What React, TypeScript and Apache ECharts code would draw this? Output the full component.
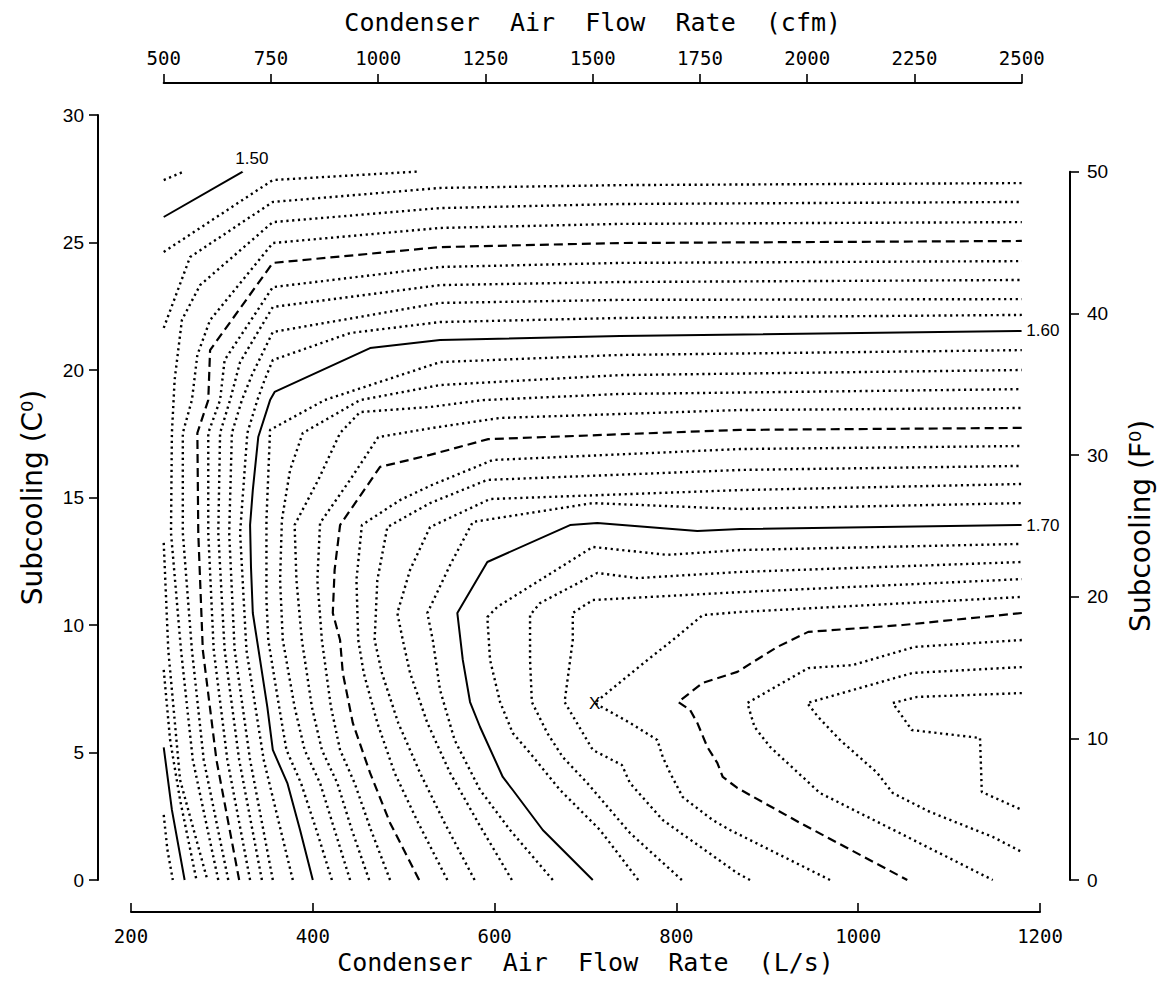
import React, { useEffect, useRef } from "react";
import * as echarts from "echarts";

type Pt = [number, number];

// Scales
const flowRange: Pt = [200, 1200]; // L/s, bottom axis
const flowInterval = 200;
const subcoolRange: Pt = [0, 30]; // °C, left axis
const subcoolInterval = 5;
const cfmRange: Pt = [500, 2500]; // cfm, top axis
const cfmInterval = 250;
const fahrenheitRange: Pt = [0, 50]; // F°, right axis
const fahrenheitInterval = 10;
const LS_PER_CFM = 0.47195;
const F_PER_C = 1.8;

// Contour pieces, points are [air flow L/s, subcooling °C]
const c149: Pt[][] = [
  [[236, 27.45], [258, 27.78]],
  [[236, 2.55], [240, 1.2], [246, 0]],
];
const c150: Pt[][] = [
  [[236, 26.0], [323, 27.78]],
  [[236, 5.2], [245, 2.75], [259, 0]],
];
const c151: Pt[][] = [
  [[236, 24.63], [356, 27.45], [515, 27.78]],
  [[236, 8.24], [243, 5.5], [254, 3.14], [272, 0]],
];
const c152: Pt[][] = [
  [[236, 21.65], [265, 24.43], [356, 26.59], [540, 27.14], [738, 27.25], [1180, 27.33]],
  [[236, 13.22], [241, 9.02], [254, 3.92], [284, 0]],
];
const c153: Pt[][] = [
  [[296, 0], [268, 4.71], [255, 9.02], [244, 13.61], [245, 17.53], [248, 19.61], [256, 21.96], [276, 23.33], [356, 25.8], [540, 26.35], [738, 26.51], [1180, 26.59]],
];
const c154: Pt[][] = [
  [[307, 0], [280, 4.71], [267, 9.02], [257, 13.61], [257, 17.53], [267, 18.82], [273, 20.59], [287, 21.96], [356, 24.98], [540, 25.57], [738, 25.73], [1180, 25.8]],
];
const c155: Pt[][] = [
  [[319, 0], [294, 4.71], [279, 9.02], [274, 13.61], [273, 17.53], [285, 18.82], [287, 20.78], [356, 24.2], [540, 24.82], [738, 24.98], [1180, 25.06]],
];
const c156: Pt[][] = [
  [[331, 0], [306, 4.71], [291, 9.02], [285, 13.61], [285, 17.53], [298, 18.82], [303, 20.39], [356, 23.25], [540, 24.04], [738, 24.2], [1180, 24.27]],
];
const c157: Pt[][] = [
  [[344, 0], [319, 4.71], [303, 9.02], [296, 13.61], [298, 17.53], [309, 18.82], [320, 20.31], [356, 22.47], [540, 23.33], [738, 23.45], [1180, 23.53]],
];
const c158: Pt[][] = [
  [[356, 0], [331, 4.71], [314, 9.02], [308, 13.61], [311, 17.53], [322, 18.82], [333, 19.8], [356, 21.49], [540, 22.63], [738, 22.75], [1180, 22.78]],
];
const c159: Pt[][] = [
  [[378, 0], [346, 4.71], [327, 9.02], [320, 13.61], [328, 17.53], [339, 18.82], [347, 19.61], [356, 20.39], [441, 21.45], [540, 21.88], [738, 22.04], [1180, 22.16]],
];
const c160: Pt[][] = [
  [[400, 0], [386, 1.96], [372, 3.8], [356, 5.1], [350, 6.78], [342, 8.63], [334, 10.47], [332, 12.27], [331, 13.92], [334, 15.29], [340, 17.37], [353, 18.82], [358, 19.14], [463, 20.86], [540, 21.18], [738, 21.33], [1180, 21.53]],
];
const c161: Pt[][] = [
  [[421, 0], [404, 1.96], [387, 3.8], [371, 5.1], [363, 6.78], [351, 9.41], [349, 10.98], [349, 14.12], [353, 17.65], [413, 18.82], [540, 20.31], [738, 20.59], [1180, 20.78]],
];
const c162: Pt[][] = [
  [[441, 0], [424, 1.96], [408, 3.8], [391, 5.1], [380, 6.78], [367, 9.41], [364, 11.76], [366, 14.12], [375, 16.08], [389, 17.53], [452, 18.82], [540, 19.41], [738, 19.8], [1180, 20.0]],
];
const c163: Pt[][] = [
  [[462, 0], [443, 1.96], [427, 3.8], [410, 5.1], [399, 6.78], [388, 9.41], [382, 11.76], [380, 13.92], [406, 15.69], [430, 17.53], [452, 18.35], [529, 18.55], [587, 18.82], [738, 19.06], [1180, 19.25]],
];
const c164: Pt[][] = [
  [[485, 0], [464, 1.96], [446, 3.8], [430, 5.1], [420, 6.78], [410, 9.41], [405, 11.76], [408, 14.0], [441, 15.69], [472, 17.37], [532, 17.73], [606, 18.12], [870, 18.43], [1180, 18.51]],
];
const c165: Pt[][] = [
  [[517, 0], [485, 2.24], [463, 4.2], [444, 6.16], [433, 8.12], [430, 9.41], [422, 10.47], [424, 12.16], [430, 13.92], [474, 16.2], [529, 16.67], [593, 17.29], [870, 17.65], [1180, 17.73]],
];
const c166: Pt[][] = [
  [[548, 0], [516, 2.24], [490, 4.2], [471, 6.16], [456, 8.12], [450, 9.41], [448, 11.76], [454, 13.92], [496, 14.9], [531, 15.49], [598, 16.47], [870, 16.9], [1180, 17.02]],
];
const c167: Pt[][] = [
  [[578, 0], [545, 2.24], [518, 4.2], [494, 6.16], [476, 8.12], [468, 9.41], [471, 11.76], [482, 13.84], [529, 14.78], [592, 15.69], [870, 16.08], [1180, 16.24]],
];
const c168: Pt[][] = [
  [[619, 0], [582, 2.24], [551, 4.2], [526, 6.16], [507, 8.12], [499, 9.41], [493, 10.47], [507, 12.16], [529, 13.84], [595, 14.94], [870, 15.29], [1180, 15.53]],
];
const c169: Pt[][] = [
  [[664, 0], [617, 1.96], [584, 3.53], [556, 5.49], [540, 7.45], [532, 9.41], [526, 10.47], [551, 12.35], [576, 14.04], [708, 14.78], [870, 14.55], [1180, 14.78]],
];
const c170: Pt[][] = [
  [[708, 0], [653, 1.96], [620, 3.53], [609, 4.04], [584, 6.0], [573, 6.98], [565, 8.63], [559, 10.47], [592, 12.47], [683, 13.92], [713, 14.0], [823, 13.69], [870, 13.76], [1180, 13.92]],
];
const c171: Pt[][] = [
  [[758, 0], [716, 1.96], [672, 3.53], [639, 4.98], [620, 5.76], [606, 6.98], [595, 8.63], [592, 10.31], [603, 10.71], [708, 13.06], [790, 12.75], [870, 12.94], [1180, 13.18]],
];
const c172: Pt[][] = [
  [[806, 0], [749, 1.84], [702, 3.8], [675, 4.82], [658, 5.76], [641, 6.98], [639, 8.63], [639, 10.39], [650, 10.86], [713, 12.04], [757, 11.84], [870, 12.08], [1180, 12.47]],
];
const c173: Pt[][] = [
  [[881, 0], [867, 0.27], [785, 2.35], [749, 3.8], [740, 4.51], [708, 5.1], [677, 6.98], [686, 9.41], [686, 10.47], [708, 10.98], [870, 11.29], [1180, 11.8]],
];
const c174: Pt[][] = [
  [[969, 0], [859, 1.96], [840, 2.35], [807, 3.25], [793, 4.2], [785, 4.82], [779, 5.49], [749, 6.16], [710, 6.94], [771, 8.71], [796, 9.41], [829, 10.39], [870, 10.51], [1180, 11.1]],
];
const c175: Pt[][] = [
  [[1180, 10.47], [1049, 10.0], [945, 9.73], [911, 9.14], [867, 8.16], [829, 7.73], [802, 6.98], [815, 6.67], [823, 6.16], [834, 5.22], [845, 4.59], [851, 4.04], [867, 3.61], [936, 2.24], [1054, 0]],
];
const c176: Pt[][] = [
  [[1180, 9.41], [1062, 9.14], [994, 8.43], [945, 8.31], [878, 6.94], [886, 6.0], [903, 5.22], [958, 3.41], [1054, 1.69], [1148, 0]],
];
const c177: Pt[][] = [
  [[1180, 8.35], [1060, 8.12], [994, 7.45], [944, 6.94], [956, 6.39], [980, 5.49], [1021, 4.2], [1038, 3.41], [1079, 2.67], [1148, 1.69], [1180, 1.1]],
];
const c178: Pt[][] = [
  [[1180, 7.33], [1065, 7.18], [1038, 6.94], [1059, 5.88], [1134, 5.57], [1136, 3.45], [1180, 2.75]],
];

const contours: { level: number; pieces: Pt[][] }[] = [
  { level: 1.49, pieces: c149 },
  { level: 1.5, pieces: c150 },
  { level: 1.51, pieces: c151 },
  { level: 1.52, pieces: c152 },
  { level: 1.53, pieces: c153 },
  { level: 1.54, pieces: c154 },
  { level: 1.55, pieces: c155 },
  { level: 1.56, pieces: c156 },
  { level: 1.57, pieces: c157 },
  { level: 1.58, pieces: c158 },
  { level: 1.59, pieces: c159 },
  { level: 1.6, pieces: c160 },
  { level: 1.61, pieces: c161 },
  { level: 1.62, pieces: c162 },
  { level: 1.63, pieces: c163 },
  { level: 1.64, pieces: c164 },
  { level: 1.65, pieces: c165 },
  { level: 1.66, pieces: c166 },
  { level: 1.67, pieces: c167 },
  { level: 1.68, pieces: c168 },
  { level: 1.69, pieces: c169 },
  { level: 1.7, pieces: c170 },
  { level: 1.71, pieces: c171 },
  { level: 1.72, pieces: c172 },
  { level: 1.73, pieces: c173 },
  { level: 1.74, pieces: c174 },
  { level: 1.75, pieces: c175 },
  { level: 1.76, pieces: c176 },
  { level: 1.77, pieces: c177 },
  { level: 1.78, pieces: c178 },
];

// Labelled levels: which piece end carries the label, and where the text sits
const labelledLevels: { level: number; piece: Pt[]; position: string; offset: number[] }[] = [
  { level: 1.5, piece: c150[0], position: "top", offset: [9, 0] },
  { level: 1.6, piece: c160[0], position: "right", offset: [0, 0] },
  { level: 1.7, piece: c170[0], position: "right", offset: [0, 0] },
];

// Design point marked with an X
const designPoint: Pt = [710, 6.94];

const INK = "#000";
const HERSHEY = "'DejaVu Sans Mono', monospace";
const SANS = "'Liberation Sans', Arial, sans-serif";
const TITLE_SANS = "'DejaVu Sans', sans-serif";

function lineStyleFor(level: number) {
  const h = Math.round(level * 100);
  if (h % 10 === 0) return { type: "solid" as any, width: 2 };
  if (h % 5 === 0) return { type: [9, 5] as any, width: 2.2 };
  return { type: [2.2, 3.6] as any, width: 2.4 };
}

const plainNumber = (v: number) => String(v);

function buildOption() {
  const main = { left: 131, top: 115, width: 909, height: 765 };
  const pxPerLs = main.width / (flowRange[1] - flowRange[0]);
  const pxPerC = main.height / (subcoolRange[1] - subcoolRange[0]);
  const topGrid = {
    left: main.left + (cfmRange[0] * LS_PER_CFM - flowRange[0]) * pxPerLs,
    width: (cfmRange[1] - cfmRange[0]) * LS_PER_CFM * pxPerLs,
    top: 83,
    height: main.top + main.height - 83,
  };
  const fSpanPx = ((fahrenheitRange[1] - fahrenheitRange[0]) / F_PER_C) * pxPerC;
  const rightGrid = {
    left: main.left,
    width: 939,
    top: main.top + main.height - fSpanPx,
    height: fSpanPx,
  };

  const axisLine = { show: true, onZero: false, lineStyle: { color: INK, width: 2 } };
  const tickStyle = { color: INK, width: 1.6 };

  const series: any[] = [];
  contours.forEach((c) => {
    c.pieces.forEach((piece) => {
      series.push({
        type: "line",
        name: c.level.toFixed(2),
        xAxisIndex: 0,
        yAxisIndex: 0,
        data: piece,
        showSymbol: false,
        symbol: "none",
        silent: true,
        lineStyle: { color: INK, ...lineStyleFor(c.level) },
        z: 2,
      });
    });
  });

  series.push({
    type: "scatter",
    xAxisIndex: 0,
    yAxisIndex: 0,
    symbolSize: 1,
    itemStyle: { color: "#fff", opacity: 1 },
    silent: true,
    data: labelledLevels.map((l) => ({
      name: l.level.toFixed(2),
      value: l.piece[l.piece.length - 1],
      label: { position: l.position, offset: l.offset },
    })),
    label: {
      show: true,
      formatter: "{b}",
      distance: 4,
      color: INK,
      opacity: 1,
      fontFamily: SANS,
      fontSize: 17,
    },
    z: 3,
  });

  series.push({
    type: "scatter",
    xAxisIndex: 0,
    yAxisIndex: 0,
    symbolSize: 1,
    itemStyle: { color: "#fff", opacity: 1 },
    silent: true,
    data: [{ name: "X", value: designPoint }],
    label: {
      show: true,
      formatter: "X",
      position: "inside",
      color: INK,
      opacity: 1,
      fontFamily: SANS,
      fontSize: 17,
    },
    z: 3,
  });

  return {
    animation: false,
    backgroundColor: "#fff",
    grid: [
      { ...main, containLabel: false },
      { ...topGrid, containLabel: false },
      { ...rightGrid, containLabel: false },
    ],
    xAxis: [
      {
        type: "value",
        gridIndex: 0,
        position: "bottom",
        min: flowRange[0],
        max: flowRange[1],
        interval: flowInterval,
        offset: 32,
        axisLine,
        axisTick: { show: true, inside: true, length: 9, lineStyle: tickStyle },
        axisLabel: { color: INK, fontFamily: HERSHEY, fontSize: 19, margin: 14, formatter: plainNumber },
        splitLine: { show: false },
        name: "Condenser  Air  Flow  Rate  (L/s)",
        nameLocation: "middle",
        nameGap: 36,
        nameTextStyle: { color: INK, fontFamily: HERSHEY, fontSize: 25 },
      },
      {
        type: "value",
        gridIndex: 1,
        position: "top",
        min: cfmRange[0],
        max: cfmRange[1],
        interval: cfmInterval,
        axisLine,
        axisTick: { show: true, inside: false, length: 9, lineStyle: tickStyle },
        axisLabel: { color: INK, fontFamily: HERSHEY, fontSize: 19, margin: 16, formatter: plainNumber },
        splitLine: { show: false },
        name: "Condenser  Air  Flow  Rate  (cfm)",
        nameLocation: "middle",
        nameGap: 48,
        nameTextStyle: { color: INK, fontFamily: HERSHEY, fontSize: 25 },
      },
      { type: "value", gridIndex: 2, show: false, min: 0, max: 1 },
    ],
    yAxis: [
      {
        type: "value",
        gridIndex: 0,
        position: "left",
        min: subcoolRange[0],
        max: subcoolRange[1],
        interval: subcoolInterval,
        offset: 33,
        axisLine,
        axisTick: { show: true, inside: false, length: 9, lineStyle: tickStyle },
        axisLabel: { color: INK, fontFamily: SANS, fontSize: 19, margin: 14, formatter: plainNumber },
        splitLine: { show: false },
        name: "Subcooling (C\u2070)",
        nameLocation: "middle",
        nameGap: 52,
        nameRotate: 90,
        nameTextStyle: { color: INK, fontFamily: TITLE_SANS, fontSize: 28 },
      },
      { type: "value", gridIndex: 1, show: false, min: 0, max: 1 },
      {
        type: "value",
        gridIndex: 2,
        position: "right",
        min: fahrenheitRange[0],
        max: fahrenheitRange[1],
        interval: fahrenheitInterval,
        axisLine,
        axisTick: { show: true, inside: false, length: 9, lineStyle: tickStyle },
        axisLabel: { color: INK, fontFamily: SANS, fontSize: 19, margin: 17, formatter: plainNumber },
        splitLine: { show: false },
        name: "Subcooling (F\u2070)",
        nameLocation: "middle",
        nameGap: 56,
        nameRotate: 90,
        nameTextStyle: { color: INK, fontFamily: TITLE_SANS, fontSize: 28 },
      },
    ],
    series,
  };
}

export default function App() {
  const ref = useRef<HTMLDivElement>(null);
  useEffect(() => {
    if (!ref.current) return;
    const chart = echarts.init(ref.current, null, { renderer: "svg" });
    chart.setOption(buildOption() as any);
    return () => chart.dispose();
  }, []);
  return (
    <div
      ref={ref}
      style={{ position: "absolute", left: 0, top: 0, width: 1163, height: 982, background: "#fff" }}
    />
  );
}
